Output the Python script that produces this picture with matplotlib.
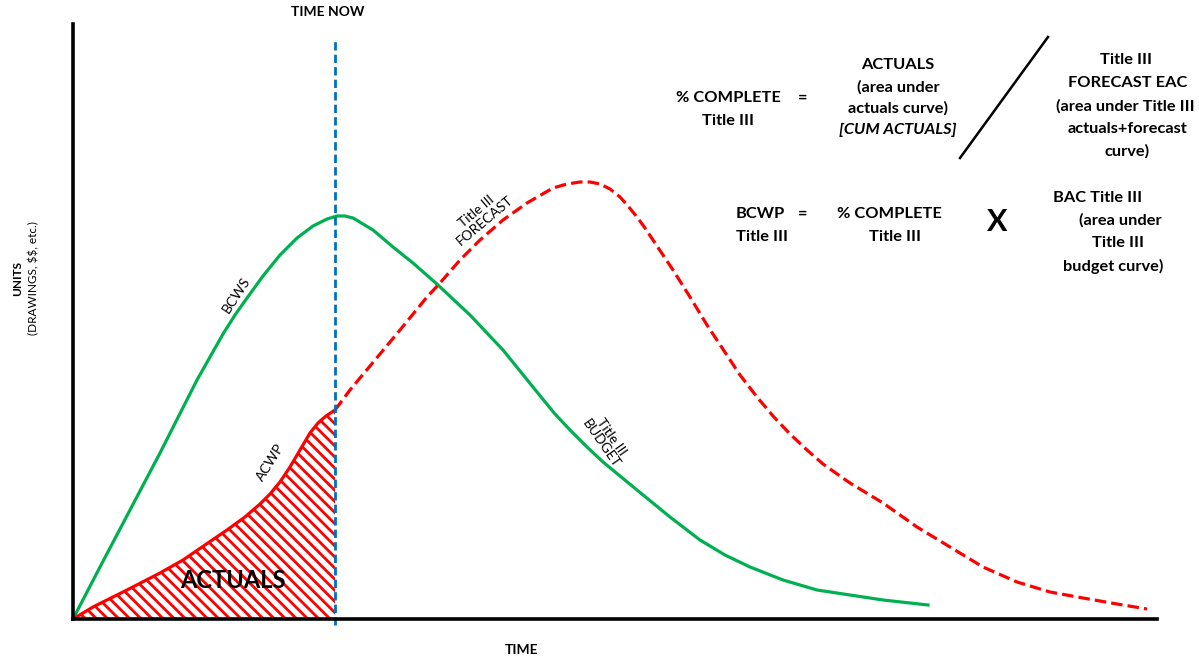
import matplotlib
matplotlib.use("Agg")
import matplotlib.pyplot as plt
import numpy as np

plt.rcParams['font.family'] = ['Lato', 'DejaVu Sans']
plt.rcParams['hatch.linewidth'] = 2.0
plt.rcParams['text.parse_math'] = False

# ---- data (time, units) ----
bcws_time = [0, 27, 57, 87, 124, 137, 150, 162, 174, 190, 207, 224, 240, 254, 264,
             272, 280, 300, 320, 340, 365, 382, 397, 430, 464, 482, 497, 514, 530,
             547, 564, 597, 627, 652, 677, 710, 744, 777, 810, 855]
bcws_units = [0, 52, 109, 166, 239, 262, 285, 304, 321, 343, 364, 381, 393, 400, 403,
              403, 401, 389, 372, 356, 334, 318, 304, 269, 227, 205, 189, 172, 157,
              143, 129, 102, 79, 64, 52, 39, 29, 24, 19, 14]

acwp_time = [0, 20, 54, 87, 110, 154, 172, 187, 197, 207, 217, 227, 237, 245, 253, 262]
acwp_units = [0, 12, 29, 46, 59, 89, 102, 115, 125, 137, 152, 169, 186, 196, 203, 209]

forecast_time = [262, 277, 297, 327, 354, 367, 387, 407, 430, 454, 480, 494, 507, 517,
                 527, 537, 547, 555, 564, 572, 580, 590, 600, 617, 634, 667, 684, 700,
                 717, 734, 750, 767, 777, 810, 844, 877, 910, 944, 977, 1010, 1044,
                 1074]
forecast_units = [209, 229, 253, 289, 322, 336, 359, 379, 399, 416, 431, 435, 437, 437,
                  435, 430, 422, 413, 402, 391, 379, 364, 349, 322, 294, 244, 222, 203,
                  185, 169, 155, 143, 136, 116, 92, 72, 52, 37, 27, 21, 15, 10]

time_now = 262

GREEN = '#00B050'
RED = '#FF0000'
BLUE = '#0070C0'

fig = plt.figure(figsize=(11.99, 6.57), dpi=100)
ax = fig.add_axes([0, 0, 1, 1])
ax.set_xlim(-73, 1126)
ax.set_ylim(-38, 619)
ax.set_xticks([])
ax.set_yticks([])
for s in ['top', 'right']:
    ax.spines[s].set_visible(False)
for s in ['left', 'bottom']:
    ax.spines[s].set_position(('data', 0))
    ax.spines[s].set_linewidth(2.6)
    ax.spines[s].set_color('black')
    ax.spines[s].set_zorder(5)
ax.spines['left'].set_bounds(0, 595)
ax.spines['bottom'].set_bounds(0, 1084)


def P(px, py):
    return (px - 73, 619 - py)


# hatched actuals area
ax.fill_between(acwp_time, 0, acwp_units, facecolor='white', edgecolor=RED,
                hatch='\\\\\\', linewidth=0, zorder=1)

# curves
ax.plot(bcws_time, bcws_units, color=GREEN, lw=2.3, zorder=3,
        solid_joinstyle='round')
ax.plot(acwp_time, acwp_units, color=RED, lw=2.3, zorder=3, solid_joinstyle='round')
fl, = ax.plot(forecast_time, forecast_units, color=RED, lw=2.3, zorder=3)
fl.set_dashes((3.6, 1.6))
tn, = ax.plot([time_now, time_now], [-6, 581], color=BLUE, lw=2.0, zorder=4)
tn.set_dashes((3.0, 1.5))

# axis text
ax.text(*P(328, 12), 'TIME NOW', ha='center', va='center', fontsize=10, fontweight='bold')
ax.text(*P(522, 650), 'TIME', ha='center', va='center', fontsize=10, fontweight='bold')
ax.text(*P(18, 278), 'UNITS', ha='center', va='center', fontsize=8.5,
        fontweight='bold', rotation=90)
ax.text(*P(34, 278), '(DRAWINGS, $$, etc.)', ha='center', va='center', fontsize=8.5,
        rotation=90)

# curve labels
ax.text(*P(236, 295), 'BCWS', ha='center', va='center', fontsize=10, rotation=57)
ax.text(*P(270, 462), 'ACWP', ha='center', va='center', fontsize=10, rotation=58)
ax.text(*P(481, 216), 'Title III\nFORECAST', ha='center', va='center', fontsize=10,
        rotation=40, linespacing=1.05)
ax.text(*P(606, 440), 'Title III\nBUDGET', ha='center', va='center', fontsize=10,
        rotation=-55, linespacing=1.05)
ax.text(*P(233, 580), 'ACTUALS', ha='center', va='center', fontsize=17,
        fontweight='bold', zorder=6)

# equations
fs = 11.8
kw = dict(ha='center', va='center', fontsize=fs, fontweight='bold')
ax.text(*P(728, 98), '% COMPLETE', **kw)
ax.text(*P(728, 121), 'Title III', **kw)
ax.text(*P(803, 98), '=', **kw)
ax.text(*P(898, 65), 'ACTUALS', **kw)
ax.text(*P(898, 87), '(area under', **kw)
ax.text(*P(898, 108), 'actuals curve)', **kw)
ax.text(*P(898, 130), '[CUM ACTUALS]', ha='center', va='center', fontsize=fs,
        fontweight='bold', style='italic')
ax.plot([960 - 73, 1048 - 73], [619 - 158, 619 - 37], color='black', lw=1.8)
ax.text(*P(1126, 60), 'Title III', **kw)
ax.text(*P(1128, 83), 'FORECAST EAC', **kw)
ax.text(*P(1125, 106), '(area under Title III', **kw)
ax.text(*P(1128, 129), 'actuals+forecast', **kw)
ax.text(*P(1127, 151), 'curve)', **kw)

ax.text(*P(736, 214), 'BCWP', ha='left', va='center', fontsize=fs, fontweight='bold')
ax.text(*P(736, 237), 'Title III', ha='left', va='center', fontsize=fs, fontweight='bold')
ax.text(*P(803, 214), '=', **kw)
ax.text(*P(889, 214), '% COMPLETE', **kw)
ax.text(*P(895, 237), 'Title III', **kw)
ax.text(*P(997, 222), 'X', ha='center', va='center', fontsize=22, fontweight='bold')
ax.text(*P(1098, 198), 'BAC Title III', **kw)
ax.text(*P(1120, 220), '(area under', **kw)
ax.text(*P(1118, 243), 'Title III', **kw)
ax.text(*P(1113, 266), 'budget curve)', **kw)

fig.savefig('out.png', dpi=100)
